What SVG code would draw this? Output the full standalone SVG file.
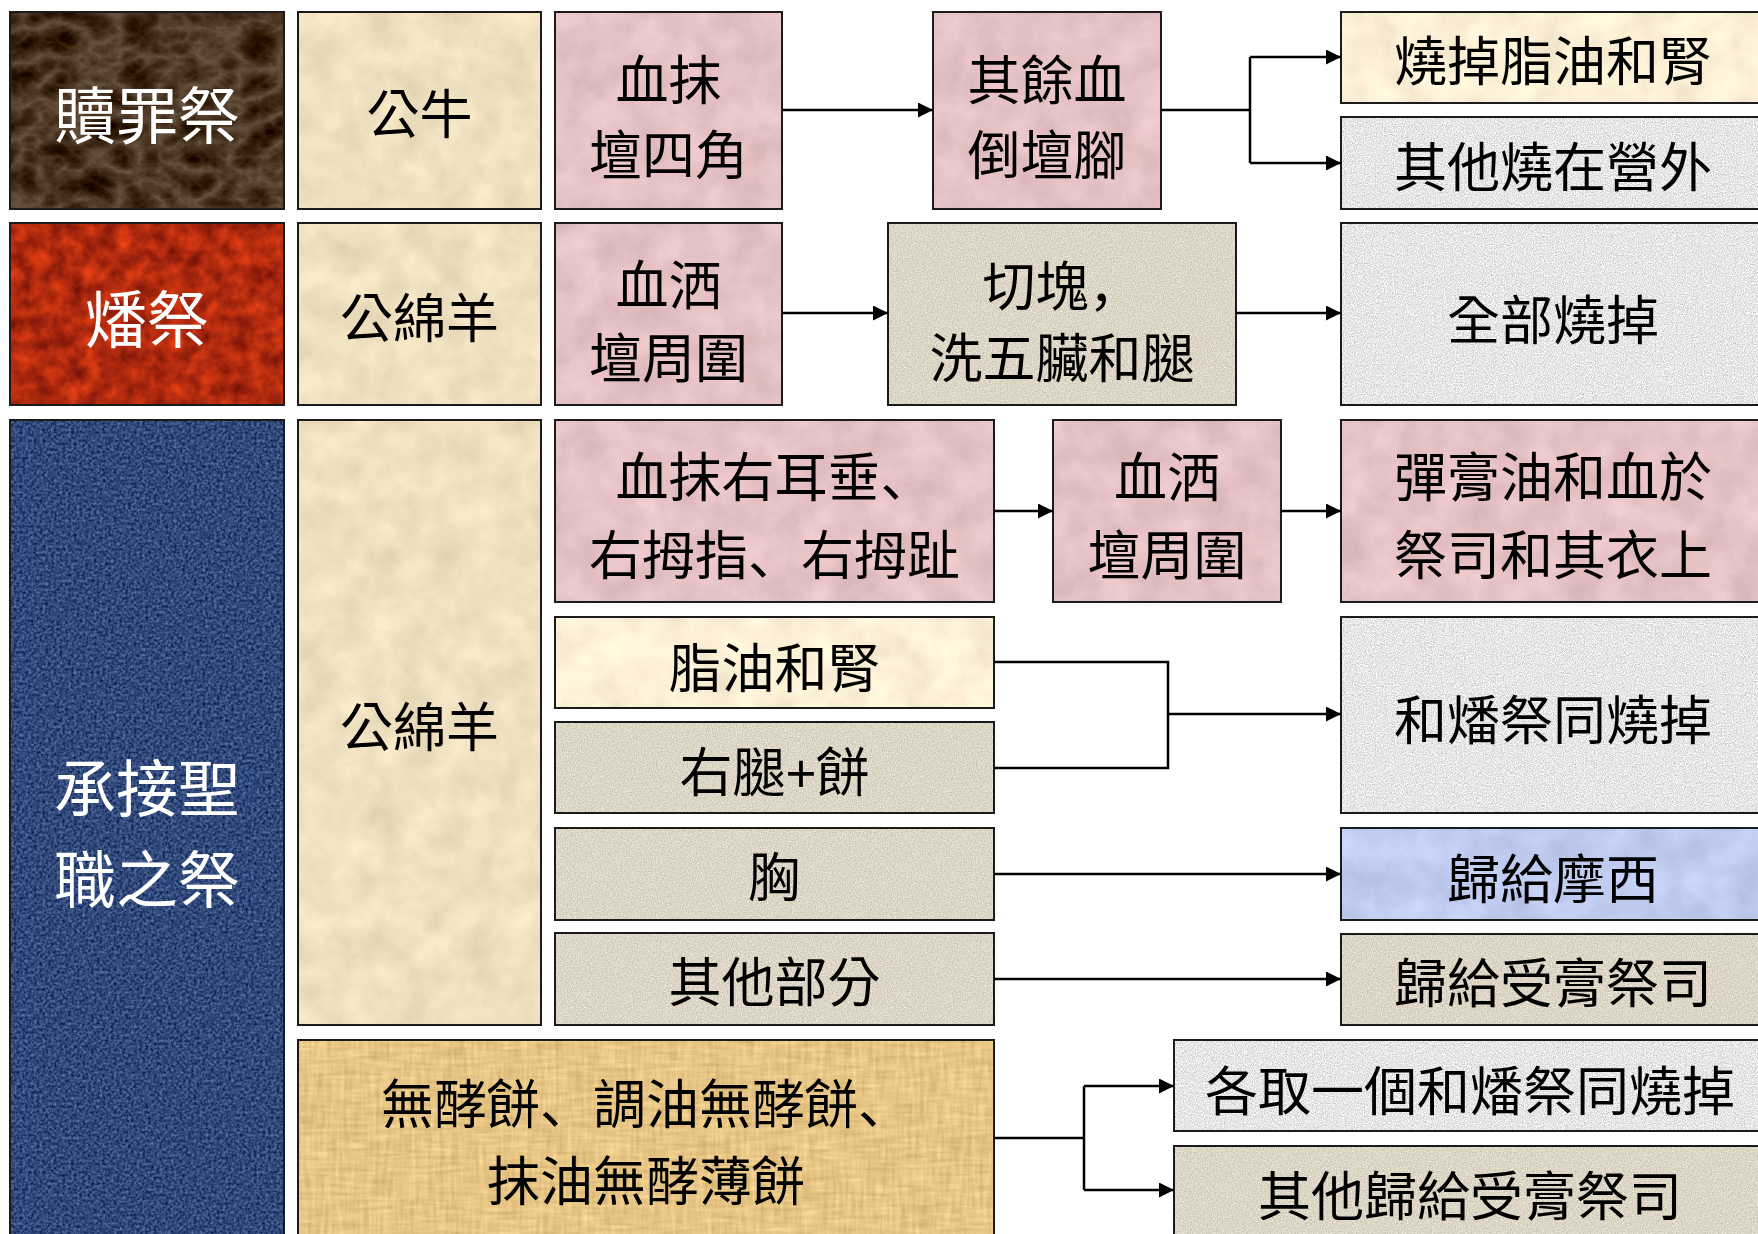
<svg xmlns="http://www.w3.org/2000/svg" width="1758" height="1234" viewBox="0 0 1758 1234">
<defs>
<style>
.bd{fill:none;stroke:#1b1b1b;stroke-width:2}
.t{font-family:'Liberation Sans','Noto Sans CJK TC',sans-serif;font-size:53px;fill:#000;text-anchor:middle}
.w{font-family:'Liberation Sans','Noto Sans CJK TC',sans-serif;font-size:62px;fill:#fff;text-anchor:middle}
.p{font-family:'Noto Sans CJK SC',sans-serif}
.brown{fill:#56412f;filter:url(#marble)}
.red{fill:#b02a0e;filter:url(#fire)}
.blue{fill:#30487a;filter:url(#denim)}
.parch{fill:#efe0c0;filter:url(#mottle)}
.pink{fill:#e6c2c4;filter:url(#mottle)}
.greige{fill:#ddd5c6;filter:url(#grain)}
.cream{fill:#fcf0d6;filter:url(#mottle)}
.gray{fill:#e6e6e6;filter:url(#speck)}
.lav{fill:#bfcbef;filter:url(#mottle)}
.papy{fill:#e7c584;filter:url(#papy)}
.cn{fill:none;stroke:#000;stroke-width:2.5}
.ar{marker-end:url(#arr)}
</style>
<marker id="arr" markerUnits="userSpaceOnUse" markerWidth="15" markerHeight="15" refX="15" refY="7.5" orient="auto">
<path d="M0,0 L15,7.5 L0,15 Z" fill="#000"/>
</marker>
<filter id="grain" x="0" y="0" width="1" height="1" color-interpolation-filters="sRGB">
<feTurbulence type="fractalNoise" baseFrequency="0.8" numOctaves="2" seed="3"/>
<feColorMatrix type="matrix" values="1 0 0 0 0 1 0 0 0 0 1 0 0 0 0 0 0 0 0 1" result="g"/>
<feComposite in="SourceGraphic" in2="g" operator="arithmetic" k1="0" k2="1" k3="0.3" k4="-0.15" result="r"/>
<feComposite in="r" in2="SourceGraphic" operator="in"/>
</filter>
<filter id="speck" x="0" y="0" width="1" height="1" color-interpolation-filters="sRGB">
<feTurbulence type="fractalNoise" baseFrequency="0.9" numOctaves="3" seed="6"/>
<feColorMatrix type="matrix" values="1 0 0 0 0 1 0 0 0 0 1 0 0 0 0 0 0 0 0 1" result="g"/>
<feComposite in="SourceGraphic" in2="g" operator="arithmetic" k1="0" k2="1" k3="0.45" k4="-0.225" result="r"/>
<feComposite in="r" in2="SourceGraphic" operator="in"/>
</filter>
<filter id="mottle" x="0" y="0" width="1" height="1" color-interpolation-filters="sRGB">
<feTurbulence type="fractalNoise" baseFrequency="0.03" numOctaves="4" seed="5"/>
<feColorMatrix type="matrix" values="1 0 0 0 0 1 0 0 0 0 1 0 0 0 0 0 0 0 0 1" result="g"/>
<feComposite in="SourceGraphic" in2="g" operator="arithmetic" k1="0" k2="1" k3="0.14" k4="-0.07" result="r"/>
<feComposite in="r" in2="SourceGraphic" operator="in"/>
</filter>
<filter id="marble" x="0" y="0" width="1" height="1" color-interpolation-filters="sRGB">
<feTurbulence type="turbulence" baseFrequency="0.025 0.035" numOctaves="4" seed="11"/>
<feColorMatrix type="matrix" values="-1 0 0 0 1 -1 0 0 0 1 -1 0 0 0 1 0 0 0 0 1" result="g"/>
<feComposite in="SourceGraphic" in2="g" operator="arithmetic" k1="0" k2="1" k3="0.45" k4="-0.36" result="r"/>
<feComposite in="r" in2="SourceGraphic" operator="in"/>
</filter>
<filter id="fire" x="0" y="0" width="1" height="1" color-interpolation-filters="sRGB">
<feTurbulence type="fractalNoise" baseFrequency="0.06" numOctaves="3" seed="8"/>
<feColorMatrix type="matrix" values="1 0 0 0 0 0.4 0 0 0 0.3 0.1 0 0 0 0.45 0 0 0 0 1" result="g"/>
<feComposite in="SourceGraphic" in2="g" operator="arithmetic" k1="0" k2="1" k3="0.6" k4="-0.3" result="r"/>
<feComposite in="r" in2="SourceGraphic" operator="in"/>
</filter>
<filter id="denim" x="0" y="0" width="1" height="1" color-interpolation-filters="sRGB">
<feTurbulence type="fractalNoise" baseFrequency="0.35" numOctaves="3" seed="2"/>
<feColorMatrix type="matrix" values="1 0 0 0 0 1 0 0 0 0 1 0 0 0 0 0 0 0 0 1" result="g"/>
<feComposite in="SourceGraphic" in2="g" operator="arithmetic" k1="0" k2="1" k3="0.5" k4="-0.25" result="r"/>
<feComposite in="r" in2="SourceGraphic" operator="in"/>
</filter>
<filter id="papy" x="0" y="0" width="1" height="1" color-interpolation-filters="sRGB">
<feTurbulence type="fractalNoise" baseFrequency="0.25 0.03" numOctaves="2" seed="4" result="a"/>
<feTurbulence type="fractalNoise" baseFrequency="0.03 0.25" numOctaves="2" seed="9" result="b"/>
<feComposite in="a" in2="b" operator="arithmetic" k2="0.5" k3="0.5" result="ab"/>
<feColorMatrix in="ab" type="matrix" values="1 0 0 0 0 1 0 0 0 0 1 0 0 0 0 0 0 0 0 1" result="g"/>
<feComposite in="SourceGraphic" in2="g" operator="arithmetic" k1="0" k2="1" k3="0.3" k4="-0.15" result="r"/>
<feComposite in="r" in2="SourceGraphic" operator="in"/>
</filter>
</defs>
<rect x="0" y="0" width="1758" height="1234" fill="#fff"/>

<g id="n-shuzui"><rect class="brown" x="10" y="12" width="274" height="197"/><rect class="bd" x="10" y="12" width="274" height="197"/><text class="w" x="147" y="139">贖罪祭</text></g>
<g id="n-gongniu"><rect class="parch" x="298" y="12" width="243" height="197"/><rect class="bd" x="298" y="12" width="243" height="197"/><text class="t" x="419.5" y="134">公牛</text></g>
<g id="n-xuemo1"><rect class="pink" x="555" y="12" width="227" height="197"/><rect class="bd" x="555" y="12" width="227" height="197"/><text class="t" x="668.5" y="100">血抹</text><text class="t" x="668.5" y="175">壇四角</text></g>
<g id="n-qiyu"><rect class="pink" x="933" y="12" width="228" height="197"/><rect class="bd" x="933" y="12" width="228" height="197"/><text class="t" x="1047" y="100">其餘血</text><text class="t" x="1047" y="175">倒壇腳</text></g>
<g id="n-shaodiao"><rect class="cream" x="1341" y="12" width="430" height="91"/><rect class="bd" x="1341" y="12" width="430" height="91"/><text class="t" x="1553" y="81">燒掉脂油和腎</text></g>
<g id="n-qita1"><rect class="gray" x="1341" y="117" width="430" height="92"/><rect class="bd" x="1341" y="117" width="430" height="92"/><text class="t" x="1553" y="187">其他燒在營外</text></g>

<g id="n-fanji"><rect class="red" x="10" y="223" width="274" height="182"/><rect class="bd" x="10" y="223" width="274" height="182"/><text class="w" x="147" y="343">燔祭</text></g>
<g id="n-gongmian1"><rect class="parch" x="298" y="223" width="243" height="182"/><rect class="bd" x="298" y="223" width="243" height="182"/><text class="t" x="419.5" y="338">公綿羊</text></g>
<g id="n-xuesa1"><rect class="pink" x="555" y="223" width="227" height="182"/><rect class="bd" x="555" y="223" width="227" height="182"/><text class="t" x="668.5" y="305">血洒</text><text class="t" x="668.5" y="378">壇周圍</text></g>
<g id="n-qiekuai"><rect class="greige" x="888" y="223" width="348" height="182"/><rect class="bd" x="888" y="223" width="348" height="182"/><text class="t" x="1062" y="306">切塊<tspan class="p">，</tspan></text><text class="t" x="1062" y="378">洗五臟和腿</text></g>
<g id="n-quanbu"><rect class="gray" x="1341" y="223" width="430" height="182"/><rect class="bd" x="1341" y="223" width="430" height="182"/><text class="t" x="1553" y="340">全部燒掉</text></g>

<g id="n-chengjie"><rect class="blue" x="10" y="420" width="274" height="830"/><rect class="bd" x="10" y="420" width="274" height="830"/><text class="w" x="147" y="812">承接聖</text><text class="w" x="147" y="903">職之祭</text></g>
<g id="n-gongmian2"><rect class="parch" x="298" y="420" width="243" height="605"/><rect class="bd" x="298" y="420" width="243" height="605"/><text class="t" x="419.5" y="747">公綿羊</text></g>
<g id="n-xuemo2"><rect class="pink" x="555" y="420" width="439" height="182"/><rect class="bd" x="555" y="420" width="439" height="182"/><text class="t" x="774.5" y="497">血抹右耳垂<tspan class="p">、</tspan></text><text class="t" x="774.5" y="575">右拇指<tspan class="p">、</tspan>右拇趾</text></g>
<g id="n-xuesa2"><rect class="pink" x="1053" y="420" width="228" height="182"/><rect class="bd" x="1053" y="420" width="228" height="182"/><text class="t" x="1167" y="497">血洒</text><text class="t" x="1167" y="575">壇周圍</text></g>
<g id="n-tan"><rect class="pink" x="1341" y="420" width="430" height="182"/><rect class="bd" x="1341" y="420" width="430" height="182"/><text class="t" x="1553" y="497">彈膏油和血於</text><text class="t" x="1553" y="575">祭司和其衣上</text></g>
<g id="n-zhiyou"><rect class="cream" x="555" y="617" width="439" height="91"/><rect class="bd" x="555" y="617" width="439" height="91"/><text class="t" x="774.5" y="688">脂油和腎</text></g>
<g id="n-youtui"><rect class="greige" x="555" y="722" width="439" height="91"/><rect class="bd" x="555" y="722" width="439" height="91"/><text class="t" x="774.5" y="792">右腿+餅</text></g>
<g id="n-xiong"><rect class="greige" x="555" y="828" width="439" height="92"/><rect class="bd" x="555" y="828" width="439" height="92"/><text class="t" x="774.5" y="897">胸</text></g>
<g id="n-qitabufen"><rect class="greige" x="555" y="933" width="439" height="92"/><rect class="bd" x="555" y="933" width="439" height="92"/><text class="t" x="774.5" y="1002">其他部分</text></g>
<g id="n-hefan"><rect class="gray" x="1341" y="617" width="430" height="196"/><rect class="bd" x="1341" y="617" width="430" height="196"/><text class="t" x="1553" y="740">和燔祭同燒掉</text></g>
<g id="n-moxi"><rect class="lav" x="1341" y="828" width="430" height="92"/><rect class="bd" x="1341" y="828" width="430" height="92"/><text class="t" x="1553" y="899">歸給摩西</text></g>
<g id="n-shougao"><rect class="greige" x="1341" y="934" width="430" height="91"/><rect class="bd" x="1341" y="934" width="430" height="91"/><text class="t" x="1553" y="1003">歸給受膏祭司</text></g>
<g id="n-wujiao"><rect class="papy" x="298" y="1040" width="696" height="210"/><rect class="bd" x="298" y="1040" width="696" height="210"/><text class="t" x="646" y="1124">無酵餅<tspan class="p">、</tspan>調油無酵餅<tspan class="p">、</tspan></text><text class="t" x="646" y="1201">抹油無酵薄餅</text></g>
<g id="n-gequ"><rect class="gray" x="1174" y="1040" width="600" height="91"/><rect class="bd" x="1174" y="1040" width="600" height="91"/><text class="t" x="1470" y="1111">各取一個和燔祭同燒掉</text></g>
<g id="n-qitagui"><rect class="greige" x="1174" y="1146" width="600" height="100"/><rect class="bd" x="1174" y="1146" width="600" height="100"/><text class="t" x="1470" y="1216">其他歸給受膏祭司</text></g>

<g id="connectors">
<path class="cn ar" d="M782,110 H933"/>
<path class="cn" d="M1161,110 H1250 M1250,57 V163"/>
<path class="cn ar" d="M1250,57 H1341"/>
<path class="cn ar" d="M1250,163 H1341"/>
<path class="cn ar" d="M782,313 H888"/>
<path class="cn ar" d="M1236,313 H1341"/>
<path class="cn ar" d="M994,511 H1053"/>
<path class="cn ar" d="M1281,511 H1341"/>
<path class="cn" d="M994,662 H1168 V768 H994"/>
<path class="cn ar" d="M1168,714 H1341"/>
<path class="cn ar" d="M994,874 H1341"/>
<path class="cn ar" d="M994,979 H1341"/>
<path class="cn" d="M994,1138 H1084 M1084,1086 V1190"/>
<path class="cn ar" d="M1084,1086 H1174"/>
<path class="cn ar" d="M1084,1190 H1174"/>
</g>
</svg>
